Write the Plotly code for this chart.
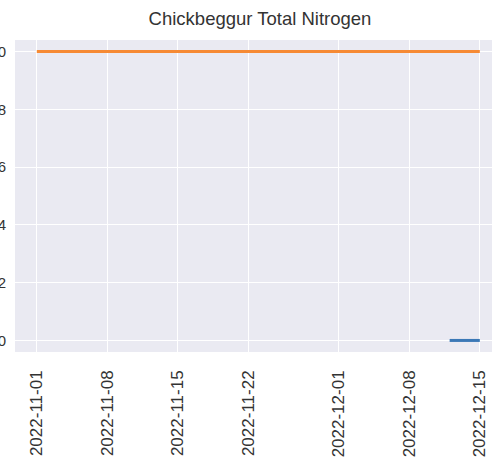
import plotly.graph_objects as go

# Data
orange_dates = ["2022-11-01", "2022-12-15"]
orange_values = [1.0, 1.0]
blue_dates = ["2022-12-12", "2022-12-15"]
blue_values = [0.0, 0.0]

x_tick_vals = ["2022-11-01", "2022-11-08", "2022-11-15", "2022-11-22",
               "2022-12-01", "2022-12-08", "2022-12-15"]
y_tick_vals = [0.0, 0.2, 0.4, 0.6, 0.8, 1.0]
y_tick_text = ["0.0", "0.2", "0.4", "0.6", "0.8", "1.0"]

fig = go.Figure()
fig.add_trace(go.Scatter(x=blue_dates, y=blue_values, mode="lines",
                         line=dict(color="#3b78b6", width=3), showlegend=False))
fig.add_trace(go.Scatter(x=orange_dates, y=orange_values, mode="lines",
                         line=dict(color="#f68a34", width=3), showlegend=False))

font_col = "#333333"
W, H = 492, 473
fig.update_layout(
    width=W, height=H, autosize=False,
    margin=dict(l=14.5, r=0, t=40, b=121, pad=0),
    paper_bgcolor="white", plot_bgcolor="#EAEAF2",
    font=dict(family="Liberation Sans, Arial, sans-serif", color=font_col),
    title=dict(text="Chickbeggur Total Nitrogen", x=260 / W, xanchor="center",
               y=1 - 18.5 / H, yanchor="middle",
               font=dict(size=18.5, color=font_col)),
    showlegend=False,
)
fig.update_xaxes(
    type="date",
    range=["2022-10-29T20:00:00", "2022-12-16T05:00:00"],
    tickvals=x_tick_vals, ticktext=x_tick_vals,
    tickangle=-90, tickfont=dict(size=17, color=font_col),
    showgrid=True, gridcolor="white", gridwidth=1.3,
    zeroline=False, showline=False, ticks="", ticklabelstandoff=14,
    automargin=False,
)
fig.update_yaxes(
    range=[-0.04, 1.04],
    tickvals=y_tick_vals, ticktext=y_tick_text,
    tickfont=dict(size=15, color=font_col),
    showgrid=True, gridcolor="white", gridwidth=1.3,
    zeroline=False, showline=False, ticks="", ticklabelstandoff=8,
    automargin=False,
)

fig.write_html("out.html",
               config={"displayModeBar": False},
               post_script="document.body.style.margin='0';document.body.style.overflow='hidden';")
